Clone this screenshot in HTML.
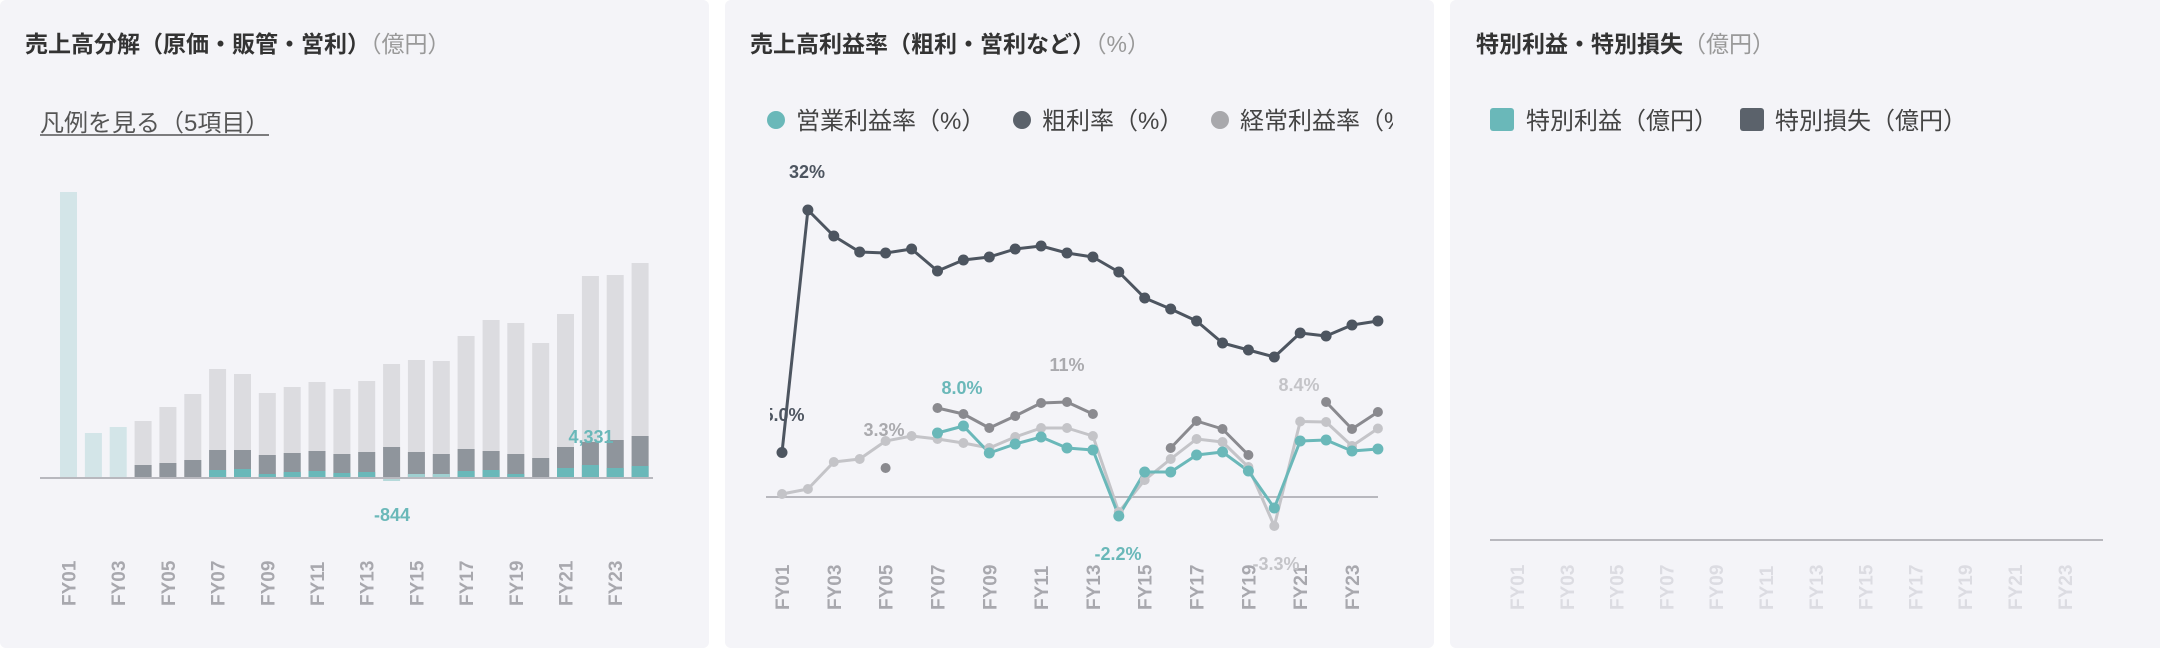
<!DOCTYPE html>
<html><head><meta charset="utf-8"><style>
html,body{margin:0;padding:0;background:#fff;width:2160px;height:648px;overflow:hidden}
svg{display:block}
text{font-family:"Liberation Sans","Noto Sans CJK JP",sans-serif}
</style></head><body>
<svg width="2160" height="648" viewBox="0 0 2160 648" xmlns="http://www.w3.org/2000/svg">
<defs><clipPath id="c2"><rect x="770" y="140" width="640" height="500"/></clipPath></defs>
<rect x="0" y="0" width="709" height="648" rx="6" fill="#f4f4f8"/>
<rect x="725" y="0" width="709" height="648" rx="6" fill="#f4f4f8"/>
<rect x="1450" y="0" width="716" height="648" rx="6" fill="#f4f4f8"/>

<!-- Panel 1 -->
<text x="25" y="52" font-size="23" font-weight="bold" fill="#333">売上高分解（原価・販管・営利）<tspan font-weight="normal" fill="#999">（億円）</tspan></text>
<text x="40" y="131" font-size="24" fill="#555">凡例を見る（5項目）</text>
<line x1="40" y1="135" x2="269" y2="135" stroke="#555" stroke-width="1.5"/>
<g>
<rect x="60" y="192" width="17" height="286" fill="#d3e5e8"/>
<rect x="84.9" y="433" width="17" height="45" fill="#d3e5e8"/>
<rect x="109.7" y="427" width="17" height="51" fill="#d3e5e8"/>
<g fill="#dcdce0">
<rect x="134.6" y="421" width="17" height="57"/><rect x="159.4" y="407" width="17" height="71"/><rect x="184.3" y="394" width="17" height="84"/>
<rect x="209.1" y="369" width="17" height="109"/><rect x="234" y="374" width="17" height="104"/><rect x="258.8" y="393" width="17" height="85"/>
<rect x="283.7" y="387" width="17" height="91"/><rect x="308.5" y="382" width="17" height="96"/><rect x="333.4" y="389" width="17" height="89"/>
<rect x="358.2" y="381" width="17" height="97"/><rect x="383.1" y="364" width="17" height="114"/><rect x="407.9" y="360" width="17" height="118"/>
<rect x="432.8" y="361" width="17" height="117"/><rect x="457.6" y="336" width="17" height="142"/><rect x="482.6" y="320" width="17" height="158"/>
<rect x="507.3" y="323" width="17" height="155"/><rect x="532.2" y="343" width="17" height="135"/><rect x="557" y="314" width="17" height="164"/>
<rect x="581.9" y="276" width="17" height="202"/><rect x="606.7" y="275" width="17" height="203"/><rect x="631.6" y="263" width="17" height="215"/>
</g>
<g fill="#8f959c">
<rect x="134.6" y="465" width="17" height="13"/><rect x="159.4" y="463" width="17" height="15"/><rect x="184.3" y="460" width="17" height="18"/>
<rect x="209.1" y="450" width="17" height="28"/><rect x="234" y="450" width="17" height="28"/><rect x="258.8" y="455" width="17" height="23"/>
<rect x="283.7" y="453" width="17" height="25"/><rect x="308.5" y="451" width="17" height="27"/><rect x="333.4" y="454" width="17" height="24"/>
<rect x="358.2" y="452" width="17" height="26"/><rect x="383.1" y="447" width="17" height="31"/><rect x="407.9" y="452" width="17" height="26"/>
<rect x="432.8" y="454" width="17" height="24"/><rect x="457.6" y="449" width="17" height="29"/><rect x="482.6" y="451" width="17" height="27"/>
<rect x="507.3" y="454" width="17" height="24"/><rect x="532.2" y="458" width="17" height="20"/><rect x="557" y="447" width="17" height="31"/>
<rect x="581.9" y="442" width="17" height="36"/><rect x="606.7" y="440" width="17" height="38"/><rect x="631.6" y="436" width="17" height="42"/>
</g>
<g fill="#6ab8b9">
<rect x="209.1" y="470" width="17" height="8"/><rect x="234" y="469" width="17" height="9"/><rect x="258.8" y="474" width="17" height="4"/>
<rect x="283.7" y="472" width="17" height="6"/><rect x="308.5" y="471" width="17" height="7"/><rect x="333.4" y="473" width="17" height="5"/>
<rect x="358.2" y="472" width="17" height="6"/><rect x="383.1" y="478" width="17" height="3" fill="#b5d9da"/><rect x="407.9" y="474" width="17" height="4" fill="#9fcfd0"/>
<rect x="432.8" y="474" width="17" height="4" fill="#9fcfd0"/><rect x="457.6" y="471" width="17" height="7"/><rect x="482.6" y="470" width="17" height="8"/>
<rect x="507.3" y="474" width="17" height="4"/><rect x="532.2" y="478" width="17" height="1" fill="#b5d9da"/><rect x="557" y="468" width="17" height="10"/>
<rect x="581.9" y="465" width="17" height="13"/><rect x="606.7" y="468" width="17" height="10"/><rect x="631.6" y="466" width="17" height="12"/>
</g>
</g>
<line x1="40" y1="478" x2="653" y2="478" stroke="#b8b8be" stroke-width="2"/>
<text x="591" y="443" font-size="18" font-weight="bold" fill="#6ab8b9" text-anchor="middle">4,331</text>
<text x="392" y="521" font-size="18" font-weight="bold" fill="#6ab8b9" text-anchor="middle">-844</text>
<g font-size="19" font-weight="bold" fill="#a8a8ae">
<text transform="translate(75.5,606) rotate(-90)">FY01</text>
<text transform="translate(125.2,606) rotate(-90)">FY03</text>
<text transform="translate(174.9,606) rotate(-90)">FY05</text>
<text transform="translate(224.6,606) rotate(-90)">FY07</text>
<text transform="translate(274.3,606) rotate(-90)">FY09</text>
<text transform="translate(324,606) rotate(-90)">FY11</text>
<text transform="translate(373.7,606) rotate(-90)">FY13</text>
<text transform="translate(423.4,606) rotate(-90)">FY15</text>
<text transform="translate(473.1,606) rotate(-90)">FY17</text>
<text transform="translate(522.8,606) rotate(-90)">FY19</text>
<text transform="translate(572.5,606) rotate(-90)">FY21</text>
<text transform="translate(622.2,606) rotate(-90)">FY23</text>
</g>

<!-- Panel 2 -->
<text x="750" y="52" font-size="23" font-weight="bold" fill="#333">売上高利益率（粗利・営利など）<tspan font-weight="normal" fill="#999">（%）</tspan></text>
<svg x="725" y="95" width="668" height="50" viewBox="725 95 668 50">
<circle cx="776" cy="120" r="9" fill="#6ab8b9"/><text x="796" y="129" font-size="24" fill="#444">営業利益率（%）</text>
<circle cx="1022" cy="120" r="9" fill="#5b626b"/><text x="1042" y="129" font-size="24" fill="#444">粗利率（%）</text>
<circle cx="1220" cy="120" r="9" fill="#a8a8ac"/><text x="1240" y="129" font-size="24" fill="#444">経常利益率（%）</text>
</svg>
<line x1="766" y1="497" x2="1378" y2="497" stroke="#b8b8be" stroke-width="2"/>
<g fill="none" stroke-width="3" stroke-linejoin="round">
<polyline stroke="#c4c4c8" points="782,494 807.9,489 833.8,462 859.7,459 885.6,441 911.6,436 937.5,439 963.4,443 989.3,448 1015.2,437 1041.1,428 1067,428 1092.9,436 1118.8,512 1144.7,480 1170.7,459 1196.6,439 1222.5,442 1248.4,467 1274.3,526 1300.2,421.5 1326.1,422 1352,446 1377.9,428.5"/>
<polyline stroke="#8a8a8f" points="937.5,408 963.4,414 989.3,428 1015.2,416 1041.1,403 1067,402 1092.9,414"/>
<polyline stroke="#8a8a8f" points="1170.7,448 1196.6,421 1222.5,429 1248.4,455"/>
<polyline stroke="#8a8a8f" points="1326.1,402 1352,429 1377.9,412"/>
<polyline stroke="#6ab8b9" points="937.5,433 963.4,426 989.3,453 1015.2,444 1041.1,437 1067,448 1092.9,450 1118.8,516 1144.7,472 1170.7,472 1196.6,455 1222.5,452 1248.4,471 1274.3,508 1300.2,441 1326.1,440 1352,451 1377.9,449"/>
<polyline stroke="#4d5560" points="782,452.5 807.9,210 833.8,236 859.7,252 885.6,253 911.6,249 937.5,271 963.4,260 989.3,257 1015.2,249 1041.1,246 1067,253 1092.9,257 1118.8,272 1144.7,298 1170.7,309 1196.6,321 1222.5,343 1248.4,350 1274.3,357 1300.2,333 1326.1,336 1352,325 1377.9,321"/>
</g>
<g fill="#c4c4c8">
<circle cx="782" cy="494" r="5"/><circle cx="807.9" cy="489" r="5"/><circle cx="833.8" cy="462" r="5"/><circle cx="859.7" cy="459" r="5"/><circle cx="885.6" cy="441" r="5"/><circle cx="911.6" cy="436" r="5"/><circle cx="937.5" cy="439" r="5"/><circle cx="963.4" cy="443" r="5"/><circle cx="989.3" cy="448" r="5"/><circle cx="1015.2" cy="437" r="5"/><circle cx="1041.1" cy="428" r="5"/><circle cx="1067" cy="428" r="5"/><circle cx="1092.9" cy="436" r="5"/><circle cx="1118.8" cy="512" r="5"/><circle cx="1144.7" cy="480" r="5"/><circle cx="1170.7" cy="459" r="5"/><circle cx="1196.6" cy="439" r="5"/><circle cx="1222.5" cy="442" r="5"/><circle cx="1248.4" cy="467" r="5"/><circle cx="1274.3" cy="526" r="5"/><circle cx="1300.2" cy="421.5" r="5"/><circle cx="1326.1" cy="422" r="5"/><circle cx="1352" cy="446" r="5"/><circle cx="1377.9" cy="428.5" r="5"/>
</g>
<g fill="#8a8a8f">
<circle cx="885.6" cy="468" r="5"/>
<circle cx="937.5" cy="408" r="5"/><circle cx="963.4" cy="414" r="5"/><circle cx="989.3" cy="428" r="5"/><circle cx="1015.2" cy="416" r="5"/><circle cx="1041.1" cy="403" r="5"/><circle cx="1067" cy="402" r="5"/><circle cx="1092.9" cy="414" r="5"/>
<circle cx="1170.7" cy="448" r="5"/><circle cx="1196.6" cy="421" r="5"/><circle cx="1222.5" cy="429" r="5"/><circle cx="1248.4" cy="455" r="5"/>
<circle cx="1326.1" cy="402" r="5"/><circle cx="1352" cy="429" r="5"/><circle cx="1377.9" cy="412" r="5"/>
</g>
<g fill="#6ab8b9">
<circle cx="937.5" cy="433" r="5.5"/><circle cx="963.4" cy="426" r="5.5"/><circle cx="989.3" cy="453" r="5.5"/><circle cx="1015.2" cy="444" r="5.5"/><circle cx="1041.1" cy="437" r="5.5"/><circle cx="1067" cy="448" r="5.5"/><circle cx="1092.9" cy="450" r="5.5"/><circle cx="1118.8" cy="516" r="5.5"/><circle cx="1144.7" cy="472" r="5.5"/><circle cx="1170.7" cy="472" r="5.5"/><circle cx="1196.6" cy="455" r="5.5"/><circle cx="1222.5" cy="452" r="5.5"/><circle cx="1248.4" cy="471" r="5.5"/><circle cx="1274.3" cy="508" r="5.5"/><circle cx="1300.2" cy="441" r="5.5"/><circle cx="1326.1" cy="440" r="5.5"/><circle cx="1352" cy="451" r="5.5"/><circle cx="1377.9" cy="449" r="5.5"/>
</g>
<g fill="#4d5560">
<circle cx="782" cy="452.5" r="5.5"/><circle cx="807.9" cy="210" r="5.5"/><circle cx="833.8" cy="236" r="5.5"/><circle cx="859.7" cy="252" r="5.5"/><circle cx="885.6" cy="253" r="5.5"/><circle cx="911.6" cy="249" r="5.5"/><circle cx="937.5" cy="271" r="5.5"/><circle cx="963.4" cy="260" r="5.5"/><circle cx="989.3" cy="257" r="5.5"/><circle cx="1015.2" cy="249" r="5.5"/><circle cx="1041.1" cy="246" r="5.5"/><circle cx="1067" cy="253" r="5.5"/><circle cx="1092.9" cy="257" r="5.5"/><circle cx="1118.8" cy="272" r="5.5"/><circle cx="1144.7" cy="298" r="5.5"/><circle cx="1170.7" cy="309" r="5.5"/><circle cx="1196.6" cy="321" r="5.5"/><circle cx="1222.5" cy="343" r="5.5"/><circle cx="1248.4" cy="350" r="5.5"/><circle cx="1274.3" cy="357" r="5.5"/><circle cx="1300.2" cy="333" r="5.5"/><circle cx="1326.1" cy="336" r="5.5"/><circle cx="1352" cy="325" r="5.5"/><circle cx="1377.9" cy="321" r="5.5"/>
</g>
<g clip-path="url(#c2)">
<text x="784" y="421" font-size="18" font-weight="bold" fill="#4d5560" text-anchor="middle">5.0%</text>
</g>
<g font-size="18" font-weight="bold" text-anchor="middle">
<text x="807" y="178" fill="#4d5560">32%</text>
<text x="884" y="436" fill="#aaaaae">3.3%</text>
<text x="962" y="394" fill="#6ab8b9">8.0%</text>
<text x="1067" y="371" fill="#aaaaae">11%</text>
<text x="1299" y="391" fill="#c4c4c8">8.4%</text>
</g>
<g font-size="19" font-weight="bold" fill="#a8a8ae">
<text transform="translate(789,610) rotate(-90)">FY01</text>
<text transform="translate(840.8,610) rotate(-90)">FY03</text>
<text transform="translate(892.6,610) rotate(-90)">FY05</text>
<text transform="translate(944.5,610) rotate(-90)">FY07</text>
<text transform="translate(996.3,610) rotate(-90)">FY09</text>
<text transform="translate(1048.1,610) rotate(-90)">FY11</text>
<text transform="translate(1099.9,610) rotate(-90)">FY13</text>
<text transform="translate(1151.7,610) rotate(-90)">FY15</text>
<text transform="translate(1203.6,610) rotate(-90)">FY17</text>
<text transform="translate(1255.4,610) rotate(-90)">FY19</text>
<text transform="translate(1307.2,610) rotate(-90)">FY21</text>
<text transform="translate(1359,610) rotate(-90)">FY23</text>
</g>
<g font-size="18" font-weight="bold" text-anchor="middle">
<text x="1118" y="560" fill="#6ab8b9">-2.2%</text>
<text x="1276" y="570" fill="#c4c4c8">-3.3%</text>
</g>

<!-- Panel 3 -->
<text x="1476" y="52" font-size="23" font-weight="bold" fill="#333">特別利益・特別損失<tspan font-weight="normal" fill="#999">（億円）</tspan></text>
<rect x="1490" y="108" width="24" height="23" rx="3" fill="#6ab8b9"/>
<text x="1526" y="129" font-size="24" fill="#444">特別利益（億円）</text>
<rect x="1740" y="108" width="24" height="23" rx="3" fill="#5b626b"/>
<text x="1775" y="129" font-size="24" fill="#444">特別損失（億円）</text>
<line x1="1490" y1="540" x2="2103" y2="540" stroke="#b8b8be" stroke-width="2"/>
<g font-size="19" font-weight="bold" fill="#dcdce2">
<text transform="translate(1524,610) rotate(-90)">FY01</text>
<text transform="translate(1573.8,610) rotate(-90)">FY03</text>
<text transform="translate(1623.6,610) rotate(-90)">FY05</text>
<text transform="translate(1673.4,610) rotate(-90)">FY07</text>
<text transform="translate(1723.2,610) rotate(-90)">FY09</text>
<text transform="translate(1773,610) rotate(-90)">FY11</text>
<text transform="translate(1822.8,610) rotate(-90)">FY13</text>
<text transform="translate(1872.6,610) rotate(-90)">FY15</text>
<text transform="translate(1922.4,610) rotate(-90)">FY17</text>
<text transform="translate(1972.2,610) rotate(-90)">FY19</text>
<text transform="translate(2022,610) rotate(-90)">FY21</text>
<text transform="translate(2071.8,610) rotate(-90)">FY23</text>
</g>
</svg>
</body></html>
